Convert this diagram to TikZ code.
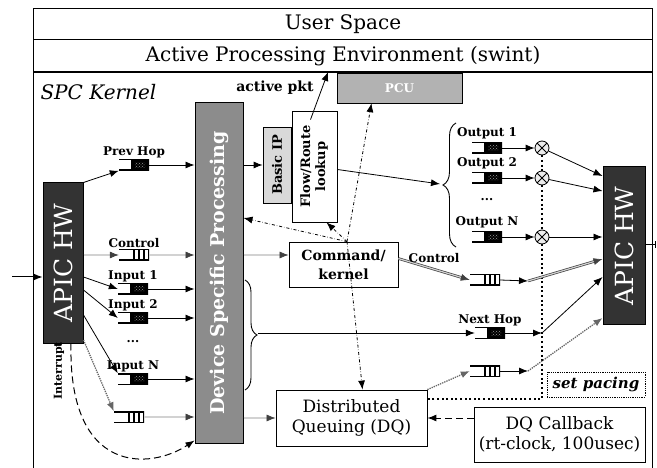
\documentclass[tikz,border=0pt]{standalone}
\usepackage{fontspec}
\setmainfont{DejaVu Serif}
\usepackage{graphicx}
\usetikzlibrary{arrows.meta, decorations.pathreplacing, patterns}
\tikzset{
  hwbox/.style={rectangle, draw, line width=1pt, fill=black!80, text=white, inner sep=0pt},
  dspbox/.style={rectangle, draw, line width=1pt, fill=black!45, text=white, inner sep=0pt},
  pcubox/.style={rectangle, draw, fill=black!30, text=white, inner sep=0pt},
  block/.style={rectangle, draw, line width=0.8pt, fill=white, align=center, inner sep=0pt},
  qlabel/.style={font=\fsize{12}{12}\bfseries, inner sep=1pt},
  dataq/.style={
    rectangle, minimum width=30pt, minimum height=11pt, inner sep=0pt,
    path picture={
      \draw[line width=2pt] (path picture bounding box.north west) -- (path picture bounding box.north east)
        -- (path picture bounding box.south east) -- (path picture bounding box.south west);
      \fill[black] ([xshift=-18pt]path picture bounding box.north east) rectangle (path picture bounding box.south east);
      \fill[pattern=crosshatch dots, pattern color=gray!80] ([xshift=-14pt,yshift=-3pt]path picture bounding box.north east)
        rectangle ([xshift=-4pt,yshift=3pt]path picture bounding box.south east);
    }
  },
  ctlq/.style={
    rectangle, minimum width=30pt, minimum height=11pt, inner sep=0pt,
    path picture={
      \draw[line width=2pt] (path picture bounding box.north west) -- (path picture bounding box.north east)
        -- (path picture bounding box.south east) -- (path picture bounding box.south west);
      \foreach \d in {5,10,15}
        \draw[line width=1.2pt] ([xshift=-\d pt]path picture bounding box.north east) -- ([xshift=-\d pt]path picture bounding box.south east);
    }
  },
  mux/.style={
    circle, draw, line width=0.8pt, fill=gray!15, minimum size=14pt, inner sep=0pt,
    path picture={
      \draw (path picture bounding box.north west) -- (path picture bounding box.south east)
            (path picture bounding box.north east) -- (path picture bounding box.south west);
    }
  },
  ctlline/.style={draw=black!75, double=gray!35, double distance=1.2pt, line width=0.7pt},
  dqline/.style={densely dotted, draw=black!60, line width=1.3pt},
  pcline/.style={dash dot, line width=0.8pt},
  longdash/.style={line width=1pt, dash pattern=on 7pt off 4pt},
  paceline/.style={line width=2.2pt, dash pattern=on 2pt off 2.6pt}
}
\tikzstyle{arrow} = [-{Latex[length=9pt, width=7pt]}]
\newcommand{\fsize}[2]{\fontsize{#1}{#2}\selectfont}
\newcommand{\vtext}[1]{\rotatebox{90}{#1}}

\begin{document}
\begin{tikzpicture}[x=1pt, y=-1pt]
    \useasboundingbox (0,0) rectangle (657,468);
    % frame and the two bands on top
    \draw[line width=1pt] (33,472) |- (652,9) -- (652,472);
    \draw (33,39) -- (652,39);
    \draw[line width=1.4pt] (33,72) -- (652,72);
    \node (userspace) at (343,24) {\fsize{20}{20}User Space};
    \node (ape) at (343,56) {\fsize{20}{20}Active Processing Environment (swint)};
    \coordinate (apebot) at (328,72);
    \node[anchor=west] (spc) at (37,92) {\fsize{20}{20}\itshape SPC Kernel};
    \node (apkt) at (275,88) {\fsize{14}{14}\bfseries active pkt};

    % blocks
    \node[hwbox, minimum width=40pt, minimum height=160pt] (apicin) at (63,263) {\vtext{\fsize{25}{25}APIC HW}};
    \node[hwbox, minimum width=42pt, minimum height=158pt] (apicout) at (624,246) {\vtext{\fsize{25}{25}APIC HW}};
    \node[dspbox, minimum width=48pt, minimum height=340pt] (dsp) at (219,273) {\vtext{\fsize{19}{19}\bfseries Device Specific Processing}};
    \node[block, fill=black!15, minimum width=28pt, minimum height=76pt] (basicip) at (277,165) {\vtext{\fsize{13}{13}\bfseries Basic IP}};
    \node[block, minimum width=45pt, minimum height=111pt] (flow) at (314.5,166.5) {\vtext{\fsize{13}{15}\bfseries\begin{tabular}{@{}c@{}}Flow/Route\\lookup\end{tabular}}};
    \node[pcubox, minimum width=125pt, minimum height=30pt] (pcu) at (399.5,88) {\fsize{12}{12}\bfseries PCU};
    \node[block, font=\fsize{14}{19}\bfseries, minimum width=109pt, minimum height=45pt] (cmd) at (343.5,264.5) {Command/\\kernel};
    \node[block, font=\fsize{17}{20}, minimum width=151pt, minimum height=56pt] (dq) at (351.5,418) {Distributed\\Queuing (DQ)};
    \node[block, font=\fsize{17}{20}, minimum width=171pt, minimum height=55pt] (dqcb) at (559.5,434.5) {DQ Callback\\(rt-clock, 100usec)};
    \node[block, densely dotted, line width=1pt, minimum width=98pt, minimum height=25pt] (pacing) at (596,384.5) {\fsize{15}{15}\bfseries\itshape set pacing};
    \node (intr) at (59,371) {\vtext{\fsize{11}{11}\bfseries Interrupt}};

    % input queues
    \node[dataq, label={[qlabel]above:Prev Hop}] (qprev) at (134,165) {};
    \node[ctlq, label={[qlabel]above:Control}] (qctl) at (134,255) {};
    \node[dataq, label={[qlabel]above:Input 1}] (qin1) at (133,289) {};
    \node[dataq, label={[qlabel]above:Input 2}] (qin2) at (133,318) {};
    \node (dotsin) at (133,342) {\fsize{12}{12}\bfseries ...};
    \node[dataq, label={[qlabel]above:Input N}] (qinn) at (133,379) {};
    \node[ctlq] (qdq) at (129,417) {};

    % output queues
    \node[dataq, label={[qlabel, label distance=2pt]above:Output 1}] (qout1) at (487,148) {};
    \node[dataq, label={[qlabel, label distance=2pt]above:Output 2}] (qout2) at (487,178) {};
    \node (dotsout) at (487,200) {\fsize{12}{12}\bfseries ...};
    \node[dataq, label={[qlabel, label distance=2pt]above:Output N}] (qoutn) at (487,237) {};
    \node[ctlq] (qctl2) at (485,280) {};
    \node[dataq, label={[qlabel]above:Next Hop}] (qnext) at (490,333) {};
    \node[ctlq] (qpace) at (485,371) {};
    \node[mux] (m1) at (542,148) {};
    \node[mux] (m2) at (542,178) {};
    \node[mux] (mn) at (542,237) {};

    \coordinate (inleft) at (12,277);
    \coordinate (outright) at (656,245);
    \coordinate (jc) at (528,281);
    \coordinate (jn) at (542,333);
    \coordinate (jp) at (528,371);
    \coordinate (dqc) at (542,399);
    \coordinate (bro1) at (456,247);
    \coordinate (bro2) at (456,123);
    \coordinate (brotip) at (440,184);
    \coordinate (bri1) at (245,280);
    \coordinate (bri2) at (245,390);
    \coordinate (britip) at (258,333);

    % braces and the pacing line
    \draw[line width=0.9pt, decorate, decoration={brace, amplitude=13pt}] (bro1) -- (bro2);
    \draw[line width=0.9pt, decorate, decoration={brace, amplitude=12pt}] (bri1) -- (bri2);
    \draw[paceline] (m1) -- (m2) (m2) -- (mn) (mn) -- (dqc) -- (dqc -| dq.east);

    % hardware in
    \draw[arrow, line width=1pt] (inleft) -- (inleft -| apicin.west);
    \draw[arrow, line width=0.8pt] (apicin.north east) -- (qprev.south west);
    \draw[arrow, ctlline] (apicin.east |- qctl) -- (qctl.west);
    \draw[arrow, line width=0.8pt] ([yshift=-14pt]apicin.east) -- (qin1.west);
    \draw[arrow, line width=0.8pt] ([yshift=-27pt]apicin.east) -- (qin2.west);
    \draw[arrow, line width=0.8pt] ([yshift=-52pt]apicin.east) -- (qinn.north west);
    \draw[arrow, dqline] ([yshift=-77pt]apicin.east) -- (qdq.north west);
    \draw[arrow, longdash] ([xshift=8pt]apicin.south) .. controls (68,475) and (150,470) .. ([yshift=3pt]dsp.south west);

    % queues into device processing
    \draw[arrow, line width=0.8pt] (qprev.east) -- (qprev -| dsp.west);
    \draw[arrow, ctlline] (qctl.east) -- (qctl -| dsp.west);
    \draw[arrow, line width=0.8pt] (qin1.east) -- (qin1 -| dsp.west);
    \draw[arrow, line width=0.8pt] (qin2.east) -- (qin2 -| dsp.west);
    \draw[arrow, line width=0.8pt] (qinn.east) -- (qinn -| dsp.west);
    \draw[arrow, ctlline] (qdq.east) -- (qdq -| dsp.west);

    % device processing out
    \draw[arrow, line width=0.8pt] (dsp.east |- basicip) -- (basicip.west);
    \draw[arrow, ctlline] (dsp.east |- qctl) -- (cmd.west |- qctl);
    \draw[arrow, ctlline] (dsp.east |- dq) -- (dq.west);
    \draw[arrow, line width=0.8pt] ([xshift=-4pt,yshift=-9pt]flow.north) -- (apebot);
    \draw[arrow, line width=0.8pt] ([yshift=-3pt]flow.east) -- (brotip);

    % command / kernel links
    \draw[arrow, pcline] ([xshift=3.5pt]cmd.north) -- ([yshift=55pt]dsp.east);
    \draw[arrow, pcline] ([xshift=3.5pt]cmd.north) -- ([xshift=12pt]flow.south);
    \draw[arrow, pcline] ([xshift=3.5pt]cmd.north) -- ([xshift=-28pt]pcu.south);
    \draw[arrow, pcline] ([xshift=3.5pt]cmd.north) -- ([xshift=11pt]dq.north);
    \draw[arrow, ctlline] ([yshift=6pt]cmd.east) -- node[midway, above=3pt, font=\fsize{12}{12}\bfseries] {Control} (qctl2.west);

    % outputs to hardware
    \draw[arrow, line width=0.8pt] (qout1.east) -- (m1.west);
    \draw[arrow, line width=0.8pt] (qout2.east) -- (m2.west);
    \draw[arrow, line width=0.8pt] (qoutn.east) -- (mn.west);
    \draw[arrow, line width=0.8pt] (m1) -- ([yshift=70pt]apicout.west);
    \draw[arrow, line width=0.8pt] (m2) -- ([yshift=55pt]apicout.west);
    \draw[arrow, line width=0.8pt] (mn) -- (apicout.west |- mn);
    \draw[arrow, line width=0.8pt] (qctl2.east) -- (jc);
    \draw[arrow, ctlline] (jc) -- ([yshift=-13pt]apicout.west);
    \draw[arrow, line width=0.8pt] (britip) -- (qnext.west);
    \draw[arrow, line width=0.8pt] (qnext.east) -- (jn);
    \draw[arrow, line width=0.8pt] (jn) -- ([yshift=-31pt]apicout.west);
    \draw[arrow, dqline] (dq.north east) -- (qpace.west);
    \draw[arrow, line width=0.8pt] (qpace.east) -- (jp);
    \draw[arrow, dqline] (jp) -- ([yshift=-72pt]apicout.west);
    \draw[arrow, longdash] (dqcb.west |- dq) -- (dq.east);
    \draw[-|, line width=1pt] (apicout.east |- outright) -- (outright);
    \end{tikzpicture}
\end{document}
